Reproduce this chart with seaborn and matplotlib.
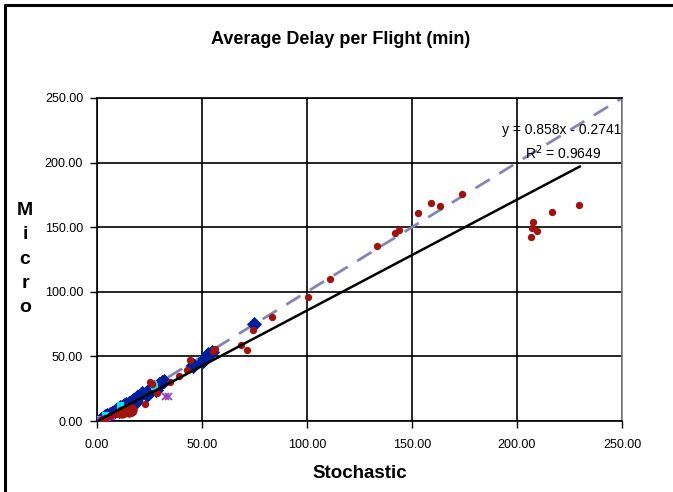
import matplotlib
matplotlib.use("Agg")
import matplotlib.pyplot as plt
import seaborn as sns
import numpy as np
import pandas as pd
from matplotlib.lines import Line2D

# ---- data ----
red_x = [100.5, 111.1, 133.2, 141.9, 143.9, 152.7, 159.2, 163.5, 173.8,
         229.7, 216.8, 207.8, 207.1, 209.5, 206.5,
         83.3, 74.1, 68.6, 71.3, 56.2, 55.0, 44.3, 42.7, 39.2, 34.8,
         25.2, 26.0, 28.4, 22.7, 4.0, 6.0, 9.0, 2.5]
red_y = [96.0, 110.2, 135.7, 145.3, 147.8, 160.7, 169.0, 166.4, 175.7,
         167.2, 162.0, 153.8, 149.6, 146.8, 142.7,
         80.7, 70.4, 58.8, 55.0, 55.7, 54.5, 47.2, 39.5, 34.8, 30.4,
         30.0, 28.6, 21.4, 13.0, 2.5, 4.0, 5.5, 1.5]
big_red_x = [16.1, 11.8, 15.0]
big_red_y = [8.2, 6.8, 7.5]
blue_x = [74.8, 54.6, 53.0, 51.4, 50.5, 52.2, 45.9, 45.5, 30.8, 32.0, 29.5,
          27.0, 25.0, 23.5, 21.3, 20.0, 19.0, 18.0, 17.0, 16.0, 15.0, 14.0,
          13.0, 12.0, 11.0, 10.0, 9.0, 8.0, 7.0, 6.0, 5.0, 4.0, 3.0, 2.0,
          18.5, 14.5, 10.5, 24.0, 28.0]
blue_y = [75.1, 53.6, 51.5, 48.5, 46.5, 50.0, 42.6, 43.3, 30.4, 31.0, 29.0,
          26.0, 24.5, 22.0, 21.4, 19.5, 18.5, 17.0, 16.0, 15.0, 14.0, 13.0,
          12.5, 11.0, 10.5, 9.0, 8.5, 7.0, 6.5, 5.5, 4.5, 3.5, 2.5, 1.5,
          15.0, 11.5, 8.0, 20.5, 24.0]
cyan_x = [26.8, 11.0, 27.6, 4.0, 1.5]
cyan_y = [27.9, 12.0, 27.0, 4.5, 1.0]
mag_x = [3.0, 5.0, 7.0, 9.0, 11.0, 1.5]
mag_y = [1.5, 2.5, 3.5, 4.5, 5.0, 0.8]
star_x = [32.3, 34.0]
star_y = [19.0, 19.0]

slope, intercept = 0.858, -0.2741
fit_x = [0.0, 230.0]
ident_x = [0.0, 250.0]
ticks = [0, 50, 100, 150, 200, 250]
tick_labels = ["0.00", "50.00", "100.00", "150.00", "200.00", "250.00"]

# ---- style ----
sns.set_style("white")
plt.rcParams['font.family'] = ['Liberation Sans', 'DejaVu Sans']
plt.rcParams['text.color'] = 'black'
plt.rcParams['axes.labelcolor'] = 'black'
plt.rcParams['xtick.color'] = 'black'
plt.rcParams['ytick.color'] = 'black'

fig = plt.figure(figsize=(6.73, 4.92), dpi=100)
ax = fig.add_axes([97/673, 1-421/492, (622-97)/673, (421-98)/492])

red = "#A0130F"
blue = "#00209A"

# identity line (dashed)
ax.plot(ident_x, ident_x, color="#8585B5", lw=2.0, dashes=(6, 4), zorder=2)

sns.scatterplot(x=blue_x, y=blue_y, marker="D", s=60, color=blue,
                edgecolor=blue, linewidth=0, ax=ax, zorder=3)
sns.scatterplot(x=cyan_x, y=cyan_y, marker="s", s=25, color="#00E5F0",
                edgecolor="none", linewidth=0, ax=ax, zorder=4)
sns.scatterplot(x=mag_x, y=mag_y, marker="s", s=22, color="#E020E0",
                edgecolor="none", linewidth=0, ax=ax, zorder=4)
sns.scatterplot(x=red_x, y=red_y, marker="o", s=28, color=red,
                edgecolor=red, linewidth=0, ax=ax, zorder=5)
sns.scatterplot(x=big_red_x, y=big_red_y, marker="o", s=80, color=red,
                edgecolor=red, linewidth=0, ax=ax, zorder=5)
sns.scatterplot(x=star_x, y=star_y, marker="x", s=25, color="#9A3FB8",
                linewidth=1.3, ax=ax, zorder=5)

# trendline
fit_y = [slope * v + intercept for v in fit_x]
ax.plot(fit_x, fit_y, color="black", lw=1.8, zorder=6)

ax.set_xlim(0, 250)
ax.set_ylim(0, 250)
ax.set_xticks(ticks)
ax.set_yticks(ticks)
ax.set_xticklabels(tick_labels, fontsize=9)
ax.set_yticklabels(tick_labels, fontsize=9)
ax.grid(True, color="black", lw=1.2)
ax.set_axisbelow(True)
ax.tick_params(axis="both", which="major", direction="out", length=5,
               width=1, color="black", labelcolor="black", bottom=True, left=True)
ax.tick_params(axis="x", pad=8)
ax.tick_params(axis="y", pad=5)
for side in ["left", "top", "bottom"]:
    ax.spines[side].set_color("black")
    ax.spines[side].set_linewidth(1.2)
ax.spines["right"].set_color("#808080")
ax.spines["right"].set_linewidth(1.2)

ax.set_xlabel("Stochastic", fontsize=13.5, fontweight="bold", labelpad=10, color="black")
ax.set_ylabel("")
fig.text(25/673, 1-259/492, "M\ni\nc\nr\no", fontsize=14, fontweight="bold",
         ha="center", va="center", linespacing=1.55, color="black")

fig.text(341/673, 1-40/492, "Average Delay per Flight (min)", fontsize=13,
         fontweight="bold", ha="center", va="center", color="black")

ax.text(249.5, 225.5, "y = 0.858x - 0.2741", fontsize=10, ha="right", va="center",
        zorder=7, color="black")
ax.text(204.0, 207.5, "R$^2$ = 0.9649", fontsize=10, ha="left", va="center",
        zorder=7, color="black")

# outer chart frame (left and top visible)
fig.add_artist(Line2D([5/673, 5/673], [0, 1-5/492], color="black", lw=2.2,
                      transform=fig.transFigure))
fig.add_artist(Line2D([5/673, 1], [1-5/492, 1-5/492], color="black", lw=2.2,
                      transform=fig.transFigure))

fig.savefig("out.png", dpi=100)
